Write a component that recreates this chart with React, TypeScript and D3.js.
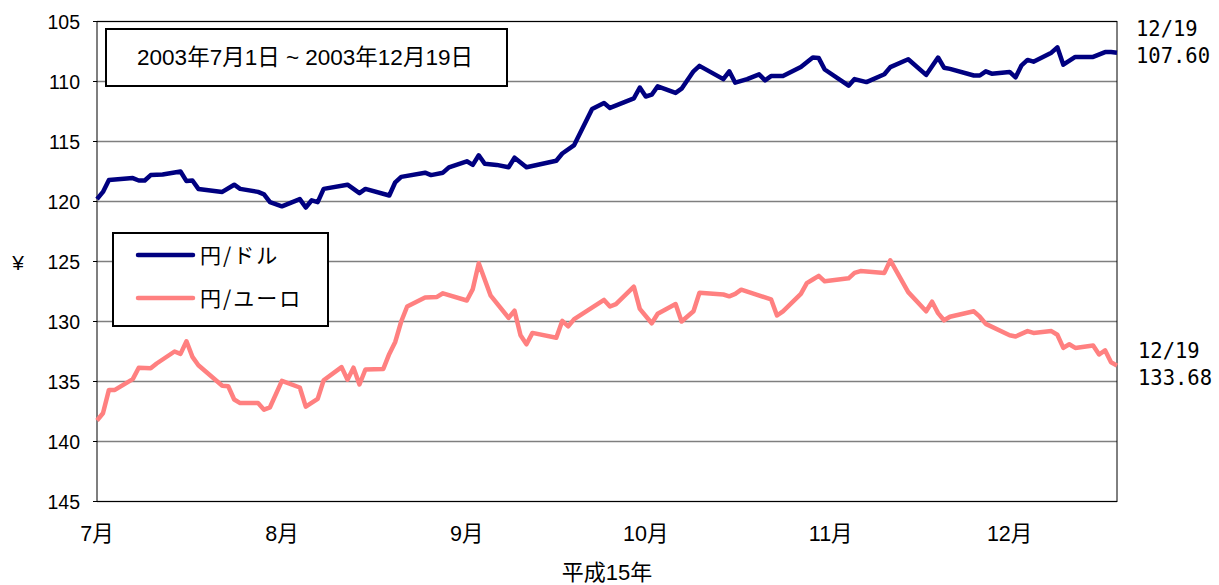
import * as d3 from "d3";

// 円/ドル (daily close)
const usdDates = [
  "07-01", "07-02", "07-03", "07-07", "07-08", "07-09", "07-10", "07-12", "07-15", "07-16",
  "07-17", "07-18", "07-22", "07-24", "07-25", "07-28", "07-29", "07-30", "08-01", "08-04",
  "08-05", "08-06", "08-07", "08-08", "08-12", "08-14", "08-15", "08-19", "08-20", "08-21",
  "08-25", "08-26", "08-28", "08-29", "09-01", "09-02", "09-03", "09-04", "09-06", "09-08",
  "09-09", "09-11", "09-16", "09-17", "09-19", "09-22", "09-24", "09-25", "09-29", "09-30",
  "10-01", "10-02", "10-03", "10-06", "10-07", "10-09", "10-10", "10-14", "10-15", "10-16",
  "10-18", "10-20", "10-21", "10-22", "10-24", "10-27", "10-29", "10-30", "10-31", "11-04",
  "11-05", "11-07", "11-10", "11-11", "11-14", "11-17", "11-19", "11-20", "11-21", "11-25",
  "11-26", "11-27", "11-28", "12-01", "12-02", "12-03", "12-04", "12-05", "12-08", "12-09",
  "12-10", "12-12", "12-15", "12-17", "12-18", "12-19",
];
const usdValues = [
  119.8, 119.2, 118.2, 118.05, 118.25, 118.25, 117.8, 117.75, 117.5, 118.3,
  118.25, 118.95, 119.2, 118.6, 118.95, 119.2, 119.4, 120.05, 120.4, 119.8,
  120.5, 119.9, 120.05, 118.95, 118.6, 119.3, 118.95, 119.5, 118.4, 117.95,
  117.6, 117.8, 117.6, 117.15, 116.65, 116.95, 116.15, 116.85, 116.95, 117.15,
  116.35, 117.15, 116.6, 116.0, 115.3, 112.3, 111.8, 112.2, 111.4, 110.5,
  111.25, 111.1, 110.4, 110.95, 110.6, 109.15, 108.7, 109.8, 109.15, 110.1,
  109.8, 109.4, 109.9, 109.55, 109.55, 108.8, 108.0, 108.05, 109.0, 110.35,
  109.8, 110.05, 109.4, 108.8, 108.15, 109.45, 108.0, 108.85, 108.95, 109.5,
  109.5, 109.15, 109.35, 109.2, 109.65, 108.65, 108.2, 108.35, 107.6, 107.15,
  108.6, 107.95, 107.95, 107.55, 107.55, 107.6,
];

// 円/ユーロ
const eurDates = [
  "07-01", "07-02", "07-03", "07-04", "07-07", "07-08", "07-10", "07-11", "07-14", "07-15",
  "07-16", "07-17", "07-18", "07-22", "07-23", "07-24", "07-25", "07-28", "07-29", "07-30",
  "08-01", "08-04", "08-05", "08-07", "08-08", "08-11", "08-12", "08-13", "08-14", "08-15",
  "08-18", "08-19", "08-20", "08-21", "08-22", "08-25", "08-27", "08-28", "09-01", "09-02",
  "09-03", "09-05", "09-08", "09-09", "09-10", "09-11", "09-12", "09-16", "09-17", "09-18",
  "09-19", "09-24", "09-25", "09-26", "09-29", "09-30", "10-02", "10-03", "10-06", "10-07",
  "10-09", "10-10", "10-14", "10-15", "10-16", "10-17", "10-22", "10-23", "10-24", "10-27",
  "10-28", "10-29", "10-30", "10-31", "11-04", "11-05", "11-06", "11-10", "11-11", "11-14",
  "11-17", "11-18", "11-19", "11-20", "11-21", "11-25", "11-26", "11-27", "12-01", "12-02",
  "12-04", "12-05", "12-08", "12-09", "12-10", "12-11", "12-12", "12-15", "12-16", "12-17",
  "12-18", "12-19",
];
const eurValues = [
  138.25, 137.65, 135.7, 135.7, 134.8, 133.85, 133.9, 133.5, 132.5, 132.7,
  131.65, 132.95, 133.65, 135.35, 135.4, 136.5, 136.8, 136.8, 137.35, 137.15,
  134.95, 135.5, 137.1, 136.45, 134.9, 133.8, 134.85, 133.85, 135.25, 134.0,
  133.95, 132.7, 131.7, 130.0, 128.75, 128.0, 127.95, 127.65, 128.25, 127.3,
  125.15, 127.85, 129.7, 129.1, 131.15, 131.9, 130.95, 131.35, 129.95, 130.4,
  129.8, 128.2, 128.75, 128.55, 127.1, 128.95, 130.15, 129.35, 128.55, 130.0,
  129.15, 127.6, 127.75, 127.9, 127.7, 127.35, 128.15, 129.5, 129.15, 127.7,
  126.8, 126.5, 126.2, 126.65, 126.4, 125.95, 125.8, 125.95, 124.9, 127.55,
  129.15, 128.35, 129.3, 129.9, 129.6, 129.15, 129.6, 130.2, 131.15, 131.25,
  130.8, 130.95, 130.8, 131.1, 132.2, 131.9, 132.2, 132.0, 132.75, 132.4,
  133.4, 133.68,
];

const seriesNames = ["円/ドル", "円/ユーロ"];
const seriesColors = ["#000080", "#ff8080"];
const monthStarts = ["07-01", "08-01", "09-01", "10-01", "11-01", "12-01"];
const monthLabels = ["7月", "8月", "9月", "10月", "11月", "12月"];
const yTicks = [105, 110, 115, 120, 125, 130, 135, 140, 145];

const sans = "'Liberation Sans', Arial, 'Noto Sans CJK JP', sans-serif";
const mono = "'DejaVu Sans Mono', 'Liberation Mono', monospace";

const parse = d3.timeParse("%Y-%m-%d");
const toDate = (s: string) => parse(`2003-${s}`) as Date;

export default function App() {
  const left = 97, right = 1117, top = 21.5, bottom = 501.5;

  const x = d3.scaleTime().domain([toDate("07-01"), toDate("12-19")]).range([left, right]);
  const y = d3.scaleLinear().domain([105, 145]).range([top, bottom]);

  const line = d3.line<[Date, number]>()
    .x((d) => x(d[0]))
    .y((d) => y(d[1]));

  const usd = usdDates.map((d, i) => [toDate(d), usdValues[i]] as [Date, number]);
  const eur = eurDates.map((d, i) => [toDate(d), eurValues[i]] as [Date, number]);
  const series = [usd, eur];

  const fmtDay = d3.timeFormat("%m/%d");
  const lastLabel = (s: [Date, number][]) => {
    const last = s[s.length - 1];
    return [fmtDay(last[0]).replace(/^0/, ""), last[1].toFixed(2)];
  };
  const usdLast = lastLabel(usd);
  const eurLast = lastLabel(eur);

  return (
    <svg width={1219} height={585} style={{ position: "absolute", left: 0, top: 0, background: "#fff" }}>
      {/* grid */}
      {yTicks.map((t) => (
        <line key={t} x1={left} x2={right} y1={y(t)} y2={y(t)} stroke="#7f7f7f" strokeWidth={1.5} />
      ))}
      {/* frame */}
      <rect x={left} y={top} width={right - left} height={bottom - top} fill="none" stroke="#000" strokeWidth={1} />
      {/* y ticks + labels */}
      {yTicks.map((t) => (
        <g key={"t" + t}>
          <line x1={left - 4} x2={left} y1={y(t)} y2={y(t)} stroke="#000" />
          <text x={80} y={y(t)} dy="0.36em" textAnchor="end" fontFamily={sans} fontSize={19.5} fill="#000">
            {t}
          </text>
        </g>
      ))}
      <text x={18} y={262} dy="0.36em" textAnchor="middle" fontFamily={sans} fontSize={21} fill="#000">¥</text>

      {/* month labels */}
      {monthStarts.map((m, i) => (
        <text key={m} x={x(toDate(m))} y={541} textAnchor="middle" fontFamily={sans} fontSize={21.5} fill="#000">
          {monthLabels[i]}
        </text>
      ))}
      <text x={607} y={580} textAnchor="middle" fontFamily={sans} fontSize={22} fill="#000">平成15年</text>

      {/* lines */}
      {series.map((s, i) => (
        <path key={i} d={line(s) || ""} fill="none" stroke={seriesColors[i]} strokeWidth={4.5} strokeLinejoin="round" />
      ))}

      {/* period box */}
      <rect x={106} y={29} width={401} height={57} fill="#fff" stroke="#000" strokeWidth={2} />
      <text x={305} y={57} dy="0.36em" textAnchor="middle" fontFamily={sans} fontSize={22.5} fill="#000">
        2003年7月1日 ~ 2003年12月19日
      </text>

      {/* legend */}
      <rect x={113} y={233} width={215} height={93} fill="#fff" stroke="#000" strokeWidth={2} />
      {seriesNames.map((n, i) => (
        <g key={n}>
          <line x1={138} x2={193} y1={255 + i * 43} y2={255 + i * 43} stroke={seriesColors[i]} strokeWidth={4.5} strokeLinecap="round" />
          <text x={200} y={255 + i * 43} dy="0.36em" fontFamily="'Noto Sans CJK JP', sans-serif" fontSize={21} letterSpacing={2} fill="#000">
            {n}
          </text>
        </g>
      ))}

      {/* last value notes */}
      <text x={1136} y={36} fontFamily={mono} fontSize={20.5} fill="#000">{usdLast[0]}</text>
      <text x={1136} y={63} fontFamily={mono} fontSize={20.5} fill="#000">{usdLast[1]}</text>
      <text x={1138} y={358} fontFamily={mono} fontSize={20.5} fill="#000">{eurLast[0]}</text>
      <text x={1138} y={385} fontFamily={mono} fontSize={20.5} fill="#000">{eurLast[1]}</text>
    </svg>
  );
}
